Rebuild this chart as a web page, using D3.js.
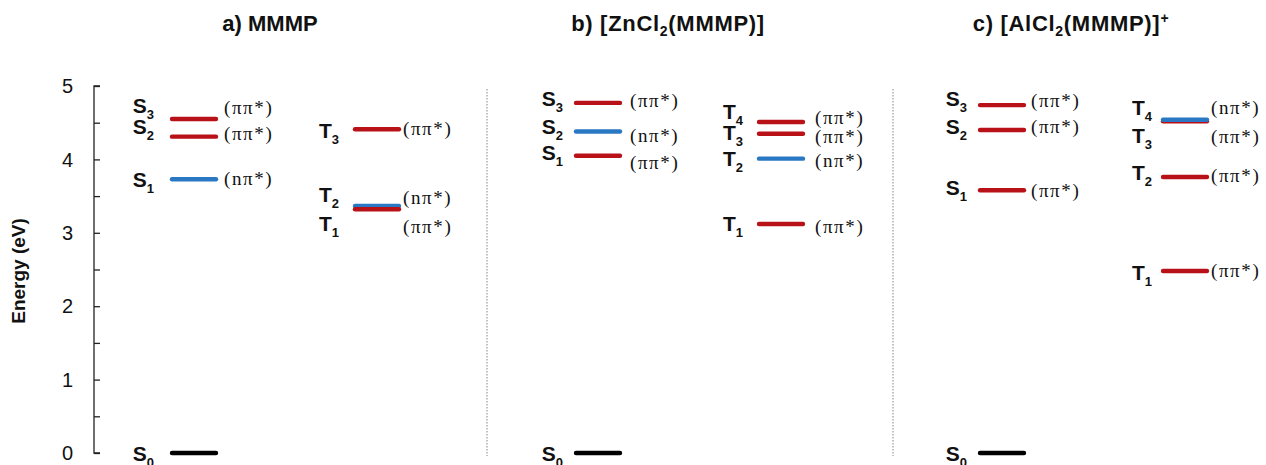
<!DOCTYPE html>
<html>
<head>
<meta charset="utf-8">
<script src="https://cdn.jsdelivr.net/npm/d3@7/dist/d3.min.js"></script>
<style>
  html, body { margin: 0; padding: 0; background: #fff; }
  svg { display: block; }
</style>
</head>
<body>
<svg id="chart" width="1266" height="465"></svg>
<script>
// ---------------- data ----------------
const panelIds    = ["a", "b", "c"];
const panelTitles = ["a) MMMP", "b) [ZnCl_2(MMMP)]", "c) [AlCl_2(MMMP)]^+"];

const aStates   = ["S0", "S1", "S2", "S3", "T1", "T2", "T3"];
const aEnergies = [0, 3.73, 4.31, 4.55, 3.32, 3.365, 4.41];
const aChars    = ["", "nπ*", "ππ*", "ππ*", "ππ*", "nπ*", "ππ*"];

const bStates   = ["S0", "S1", "S2", "S3", "T1", "T2", "T3", "T4"];
const bEnergies = [0, 4.05, 4.38, 4.77, 3.12, 4.01, 4.35, 4.51];
const bChars    = ["", "ππ*", "nπ*", "ππ*", "ππ*", "nπ*", "ππ*", "ππ*"];

const cStates   = ["S0", "S1", "S2", "S3", "T1", "T2", "T3", "T4"];
const cEnergies = [0, 3.58, 4.40, 4.74, 2.48, 3.76, 4.52, 4.54];
const cChars    = ["", "ππ*", "ππ*", "ππ*", "ππ*", "ππ*", "ππ*", "nπ*"];

const yTicks      = [0, 1, 2, 3, 4, 5];
const yMinorTicks = [0.5, 1.5, 2.5, 3.5, 4.5];
const yLabel = "Energy (eV)";

// ---------------- layout ----------------
const svg = d3.select("#chart");

const y = d3.scaleLinear().domain([0, 5]).range([453, 86]);
const xPanel = d3.scalePoint().domain(panelIds).range([172, 980]);
const colOffset = { S: 0, T: 183 };
const lineLen = 44;
const titleX = { a: 270, b: 668, c: 1071 };
const titleSpacing = { a: 0, b: 0.7, c: 0.7 };
const labelGap = { a: { S: 18, T: 16 }, b: { S: 13, T: 16 }, c: { S: 13, T: 11 } };
const annotGap = { a: { S: 8, T: 4 }, b: { S: 10, T: 12 }, c: { S: 7, T: 4 } };
// pixel nudges [state label dy, annotation dy] from the level line
const nudge = {
  "a-S0": [1, 0], "a-S1": [1, 1], "a-S2": [-10, -2], "a-S3": [-13, -10],
  "a-T1": [15, 19], "a-T2": [-11, -7], "a-T3": [2, 1],
  "b-S0": [1, 0], "b-S1": [-3, 8], "b-S2": [-5, 5], "b-S3": [-4, -1],
  "b-T1": [0, 4], "b-T2": [0, 3], "b-T3": [-1, 4], "b-T4": [-10, -3],
  "c-S0": [1, 0], "c-S1": [-2, 2], "c-S2": [-3, -2], "c-S3": [-6, -3],
  "c-T1": [2, 1], "c-T2": [-4, 0], "c-T3": [15, 17], "c-T4": [-12, -11]
};
const separatorX = [487, 893];

const colorFor = ch => ch === "" ? "#000000" : (ch.startsWith("n") ? "#2a78c4" : "#b81218");

const panelData = {
  a: aStates.map((s, i) => ({ panel: "a", state: s, e: aEnergies[i], ch: aChars[i] })),
  b: bStates.map((s, i) => ({ panel: "b", state: s, e: bEnergies[i], ch: bChars[i] })),
  c: cStates.map((s, i) => ({ panel: "c", state: s, e: cEnergies[i], ch: cChars[i] }))
};

// ---------------- axis ----------------
const axisX = 94;
const axisG = svg.append("g").attr("transform", `translate(${axisX},0)`);
axisG.call(d3.axisRight(y).tickValues(yTicks).tickSize(6).tickFormat(""))
  .call(g => g.select(".domain").attr("d", `M6,${y(5)}H0V${y(0)}H6`).attr("stroke", "#222").attr("stroke-width", 1.3))
  .call(g => g.selectAll(".tick line").attr("stroke", "#222").attr("stroke-width", 1.3));
axisG.append("g").call(d3.axisRight(y).tickValues(yMinorTicks).tickSize(6).tickFormat(""))
  .call(g => g.select(".domain").remove())
  .call(g => g.selectAll(".tick line").attr("stroke", "#222").attr("stroke-width", 1.3));

svg.append("g").selectAll("text").data(yTicks).join("text")
  .attr("x", 73).attr("y", d => y(d)).attr("dy", "0.36em")
  .attr("text-anchor", "end")
  .attr("font-family", "Liberation Sans, Arial, sans-serif")
  .attr("font-size", 20).attr("fill", "#111")
  .text(d => d);

svg.append("text")
  .attr("transform", `translate(25,${271}) rotate(-90)`)
  .attr("text-anchor", "middle")
  .attr("font-family", "Liberation Sans, Arial, sans-serif")
  .attr("font-weight", "bold").attr("font-size", 19).attr("fill", "#111")
  .text(yLabel);

// ---------------- separators ----------------
svg.append("g").selectAll("line").data(separatorX).join("line")
  .attr("x1", d => d).attr("x2", d => d)
  .attr("y1", 89).attr("y2", 456)
  .attr("stroke", "#9a9a9a").attr("stroke-width", 1.2)
  .attr("stroke-dasharray", "1.5,1.5");

// ---------------- titles ----------------
function richText(sel, str, subSize) {
  const parts = str.split(/(_[^()\]]|\^\+)/).filter(p => p !== "");
  let pendingDy = 0;
  parts.forEach(p => {
    if (p.startsWith("_")) {
      sel.append("tspan").attr("dy", 5).attr("font-size", subSize).text(p.slice(1));
      pendingDy = -5;
    } else if (p.startsWith("^")) {
      sel.append("tspan").attr("dy", -8).attr("font-size", subSize).text(p.slice(1));
      pendingDy = 8;
    } else {
      sel.append("tspan").attr("dy", pendingDy).text(p);
      pendingDy = 0;
    }
  });
}
panelIds.forEach((p, i) => {
  const t = svg.append("text")
    .attr("x", titleX[p]).attr("y", 31)
    .attr("text-anchor", "middle")
    .attr("font-family", "Liberation Sans, Arial, sans-serif")
    .attr("font-weight", "bold").attr("font-size", 22)
    .attr("letter-spacing", titleSpacing[p]).attr("fill", "#111");
  richText(t, panelTitles[i], 14);
});

// ---------------- levels ----------------
panelIds.forEach(p => {
  const data = panelData[p];
  const g = svg.append("g");
  const x0 = d => xPanel(p) + colOffset[d.state[0]];
  const order = p === "c" ? data : data.slice().sort((a, b) => (a.ch.startsWith("n") ? -1 : 0) - (b.ch.startsWith("n") ? -1 : 0));
  g.selectAll("line.level").data(order).join("line")
    .attr("class", "level")
    .attr("x1", d => x0(d)).attr("x2", d => x0(d) + lineLen)
    .attr("y1", d => y(d.e)).attr("y2", d => y(d.e))
    .attr("stroke", d => colorFor(d.ch))
    .attr("stroke-width", 4.4)
    .attr("stroke-linecap", "round");

  // state labels
  const lab = g.selectAll("text.state").data(data).join("text")
    .attr("class", "state")
    .attr("x", d => x0(d) - labelGap[p][d.state[0]])
    .attr("y", d => y(d.e) + nudge[p + "-" + d.state][0] + 7)
    .attr("text-anchor", "end")
    .attr("font-family", "Liberation Sans, Arial, sans-serif")
    .attr("font-weight", "bold").attr("font-size", 21).attr("fill", "#111");
  lab.append("tspan").text(d => d.state[0]);
  lab.append("tspan").attr("dy", 6).attr("font-size", 13).text(d => d.state.slice(1));

  // character annotations
  g.selectAll("text.char").data(data.filter(d => d.ch !== "")).join("text")
    .attr("class", "char")
    .attr("x", d => x0(d) + lineLen + annotGap[p][d.state[0]])
    .attr("y", d => y(d.e) + nudge[p + "-" + d.state][1] + 5)
    .attr("font-family", "Liberation Serif, Times New Roman, serif")
    .attr("font-size", 19).attr("letter-spacing", 1.6).attr("fill", "#111")
    .text(d => "(" + d.ch + ")");
});
</script>
</body>
</html>
